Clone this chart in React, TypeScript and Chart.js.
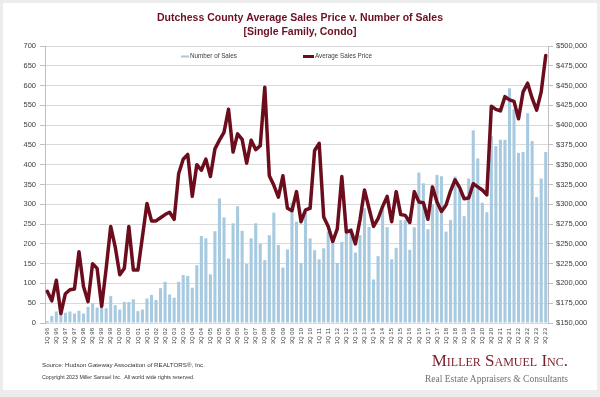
import React, { useEffect, useRef } from 'react';
import { Chart, registerables } from 'chart.js';

Chart.register(...registerables);

const YEARS = ['96', '97', '98', '99', '00', '01', '02', '03', '04', '05', '06', '07', '08', '09', '10', '11', '12', '13', '14', '15', '16', '17', '18', '19', '20', '21', '22', '23'];
const QUARTERS = ['1Q', '2Q', '3Q', '4Q'];
const QUARTER_COUNT = 111; // 1Q 96 .. 3Q 23
const CATEGORIES = YEARS.flatMap((y) => QUARTERS.map((q) => `${q} ${y}`)).slice(0, QUARTER_COUNT);

const NUMBER_OF_SALES = [
  5, 18, 29, 22, 26, 29, 24, 31, 24, 41,
  50, 39, 39, 37, 68, 45, 34, 53, 53, 60,
  30, 34, 62, 71, 58, 88, 104, 72, 64, 104,
  121, 119, 89, 146, 220, 214, 123, 232, 315, 267,
  163, 252, 295, 233, 149, 214, 252, 200, 159, 222,
  279, 197, 140, 186, 304, 256, 152, 281, 214, 184,
  161, 189, 231, 218, 152, 205, 226, 239, 178, 222,
  290, 243, 110, 169, 287, 242, 161, 190, 260, 260,
  185, 242, 380, 353, 237, 300, 374, 371, 231, 260,
  370, 336, 270, 365, 487, 416, 304, 280, 472, 447,
  463, 463, 593, 540, 430, 432, 530, 460, 318, 365,
  432,
];

const AVERAGE_SALES_PRICE = [
  190000, 178000, 204000, 162000, 187000, 192000, 193000, 240000, 196000, 177000,
  225000, 219000, 171000, 219000, 272000, 246000, 211000, 219000, 272000, 217000,
  217000, 259000, 301000, 279000, 279000, 283000, 287000, 290000, 281000, 339000,
  357000, 363000, 310000, 350000, 343000, 357000, 335000, 370000, 381000, 391000,
  420000, 366000, 389000, 382000, 352000, 381000, 369000, 374000, 448000, 336000,
  324000, 309000, 336000, 295000, 292000, 316000, 278000, 293000, 295000, 368000,
  377000, 284000, 272000, 253000, 269000, 335000, 265000, 267000, 250000, 280000,
  318000, 295000, 272000, 282000, 297000, 310000, 278000, 316000, 287000, 286000,
  277000, 316000, 303000, 302000, 281000, 322000, 303000, 291000, 299000, 317000,
  331000, 321000, 307000, 308000, 326000, 322000, 318000, 312000, 424000, 420000,
  418000, 436000, 432000, 430000, 408000, 442000, 453000, 434000, 419000, 442000,
  488000,
];

const SALES_AXIS = { min: 0, max: 700, step: 50 };
const PRICE_AXIS = { min: 150000, max: 500000, step: 25000 };

const TITLE_LINES = ['Dutchess County Average Sales Price v. Number of Sales', '[Single Family, Condo]'];
const SERIES_NAMES = ['Number of Sales', 'Average Sales Price'];
const SOURCE_TEXT = 'Source: Hudson Gateway Association of REALTORS®, Inc.';
const COPYRIGHT_TEXT = 'Copyright 2023 Miller Samuel Inc.  All world wide rights reserved.';
const LOGO_TEXT = 'Miller Samuel Inc.';
const TAGLINE_TEXT = 'Real Estate Appraisers & Consultants';

const BAR_COLOR = '#a8cae1';
const LINE_COLOR = '#6c0d1d';
const TITLE_COLOR = '#6b1022';
const GRID_COLOR = '#d9d9d9';
const TEXT_COLOR = '#404040';
const FONT = 'Arial, "Liberation Sans", sans-serif';

const insideLegend = {
  id: 'insideLegend',
  afterDraw(chart: any) {
    const ctx = chart.ctx;
    ctx.save();
    ctx.font = `6.3px ${FONT}`;
    ctx.textBaseline = 'middle';
    ctx.textAlign = 'left';
    const y = 56.5;
    ctx.fillStyle = BAR_COLOR;
    ctx.fillRect(181, y - 1, 8, 2);
    ctx.fillStyle = TEXT_COLOR;
    ctx.fillText(SERIES_NAMES[0], 190, y);
    ctx.strokeStyle = LINE_COLOR;
    ctx.lineWidth = 3;
    ctx.beginPath();
    ctx.moveTo(303, y);
    ctx.lineTo(314, y);
    ctx.stroke();
    ctx.fillStyle = TEXT_COLOR;
    ctx.fillText(SERIES_NAMES[1], 315, y);
    ctx.restore();
  },
};

function ChartCanvas() {
  const ref = useRef<HTMLCanvasElement | null>(null);
  useEffect(() => {
    if (!ref.current) return;
    const chart = new Chart(ref.current, {
      type: 'bar',
      data: {
        labels: CATEGORIES,
        datasets: [
          {
            type: 'line',
            label: SERIES_NAMES[1],
            data: AVERAGE_SALES_PRICE,
            yAxisID: 'y1',
            borderColor: LINE_COLOR,
            backgroundColor: LINE_COLOR,
            borderWidth: 3.5,
            pointRadius: 0,
            tension: 0,
            borderJoinStyle: 'round',
            borderCapStyle: 'round',
            order: 0,
          } as any,
          {
            type: 'bar',
            label: SERIES_NAMES[0],
            data: NUMBER_OF_SALES,
            yAxisID: 'y',
            backgroundColor: BAR_COLOR,
            borderWidth: 0,
            barPercentage: 0.68,
            categoryPercentage: 1,
            order: 1,
          } as any,
        ],
      },
      options: {
        animation: false,
        responsive: false,
        maintainAspectRatio: false,
        layout: { padding: 0 },
        plugins: {
          legend: { display: false },
          tooltip: { enabled: false },
          title: {
            display: true,
            text: TITLE_LINES,
            color: TITLE_COLOR,
            font: { family: FONT, size: 10.5, weight: 'bold', lineHeight: 1.25 },
            padding: { top: 12, bottom: 7.75 },
          },
        },
        scales: {
          x: {
            grid: { display: false, drawTicks: false },
            border: { display: false },
            afterFit(scale: any) {
              scale.height = 74;
            },
            ticks: {
              autoSkip: false,
              minRotation: 90,
              maxRotation: 90,
              padding: 5,
              color: TEXT_COLOR,
              font: { family: FONT, size: 6 },
              callback(_v: any, i: number) {
                return i % 2 === 0 ? CATEGORIES[i] : '';
              },
            },
          },
          y: {
            position: 'left',
            min: SALES_AXIS.min,
            max: SALES_AXIS.max,
            afterFit(scale: any) {
              scale.width = 45;
            },
            grid: { color: GRID_COLOR, tickLength: 5, tickColor: '#bfbfbf' },
            border: { display: true, color: '#bfbfbf' },
            ticks: {
              stepSize: SALES_AXIS.step,
              padding: 4,
              color: TEXT_COLOR,
              font: { family: FONT, size: 7.5 },
            },
          },
          y1: {
            position: 'right',
            min: PRICE_AXIS.min,
            max: PRICE_AXIS.max,
            afterFit(scale: any) {
              scale.width = 52;
            },
            grid: { drawOnChartArea: false, tickLength: 5, tickColor: '#bfbfbf' },
            border: { display: true, color: '#bfbfbf' },
            ticks: {
              stepSize: PRICE_AXIS.step,
              padding: 3,
              color: TEXT_COLOR,
              font: { family: FONT, size: 7.5 },
              callback(v: any) {
                return '$' + Number(v).toLocaleString('en-US');
              },
            },
          },
        },
      },
      plugins: [insideLegend],
    } as any);
    return () => chart.destroy();
  }, []);
  return <canvas ref={ref} width={600} height={397} style={{ position: 'absolute', left: 0, top: 0, width: 600, height: 397 }} />;
}

export default function App() {
  const serif = '"Liberation Serif", "DejaVu Serif", "Times New Roman", serif';
  return (
    <div style={{ position: 'absolute', left: 0, top: 0, width: 600, height: 397, background: '#ececec', overflow: 'hidden' }}>
      <div style={{ position: 'absolute', left: 3, top: 3, width: 594, height: 387, background: '#ffffff' }} />
      <ChartCanvas />
      <div style={{ position: 'absolute', left: 42, top: 362, fontFamily: FONT, fontSize: 6.2, color: '#333', whiteSpace: 'nowrap', lineHeight: 1 }}>{SOURCE_TEXT}</div>
      <div style={{ position: 'absolute', left: 42, top: 375, fontFamily: FONT, fontSize: 5.3, color: '#333', whiteSpace: 'pre', lineHeight: 1 }}>{COPYRIGHT_TEXT}</div>
      <div style={{ position: 'absolute', right: 32, top: 352, fontFamily: serif, fontSize: 17, fontVariant: 'small-caps', color: '#7b1e2a', whiteSpace: 'nowrap', lineHeight: 1 }}>{LOGO_TEXT}</div>
      <div style={{ position: 'absolute', right: 32, top: 375, fontFamily: serif, fontSize: 9.5, color: '#707070', whiteSpace: 'nowrap', lineHeight: 1 }}>{TAGLINE_TEXT}</div>
    </div>
  );
}
